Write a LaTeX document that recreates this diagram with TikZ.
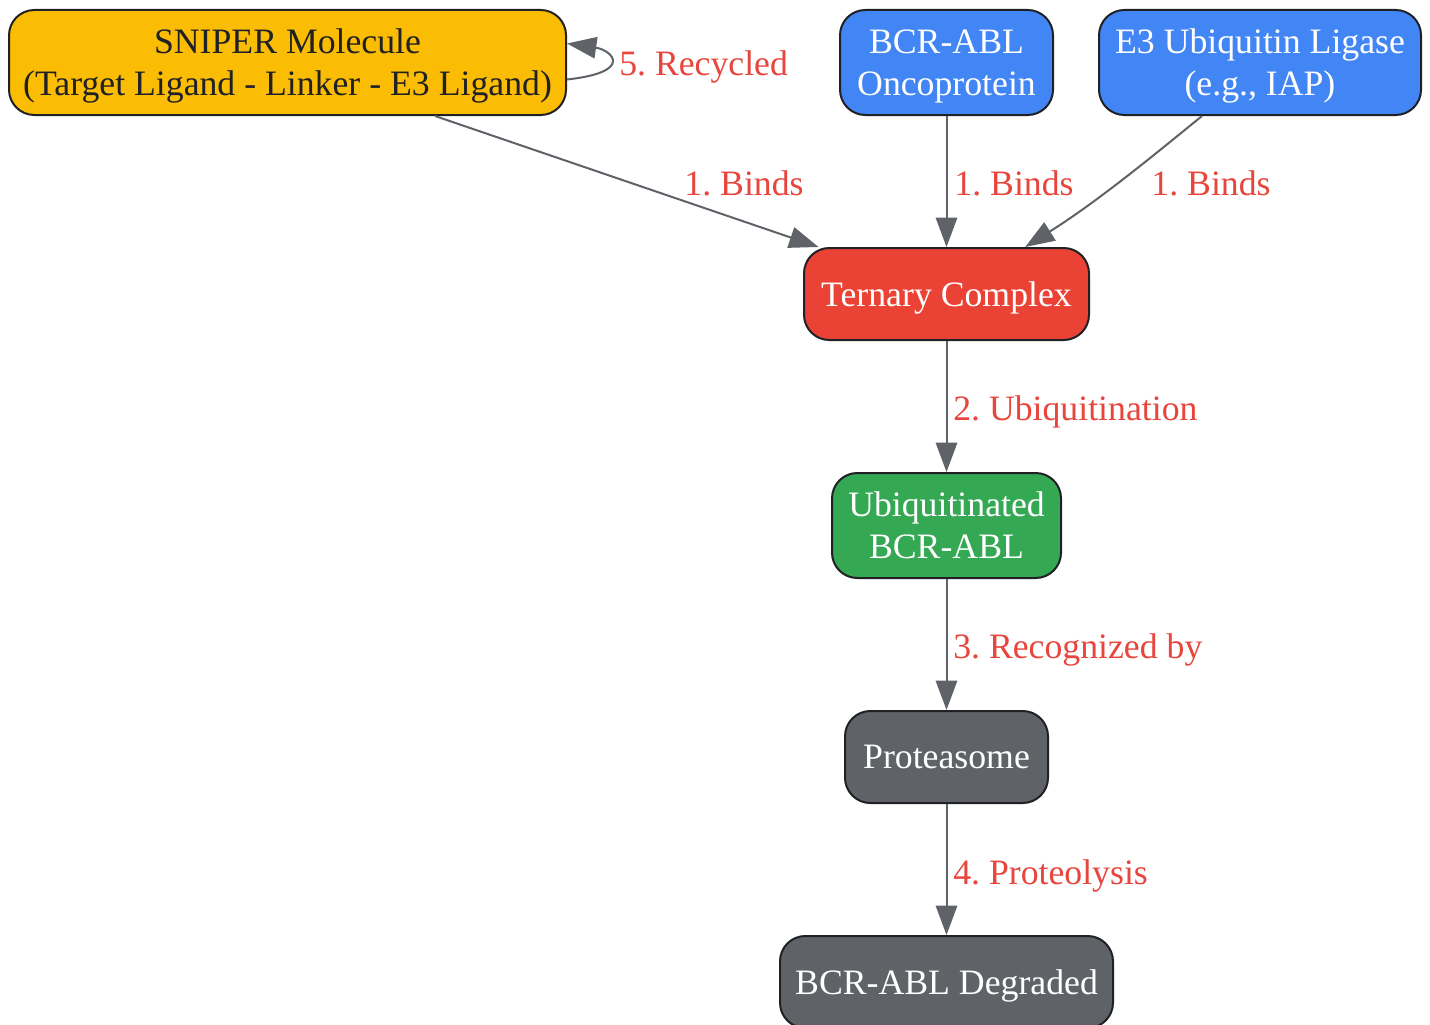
\documentclass[tikz,border=0pt]{standalone}
\usepackage{fontspec}
\setmainfont{Liberation Serif}
\usetikzlibrary{arrows.meta}
\definecolor{cyellow}{HTML}{FBBC04}
\definecolor{cblue}{HTML}{4285F4}
\definecolor{cred}{HTML}{EA4335}
\definecolor{cgreen}{HTML}{34A853}
\definecolor{cgray}{HTML}{5F6368}
\definecolor{cborder}{HTML}{202124}
\definecolor{clabel}{HTML}{E8453C}
\frenchspacing
\begin{document}
\begin{tikzpicture}[x=0.75pt,y=-0.75pt,
  box/.style={draw=cborder,line width=1.5pt,rounded corners=19pt,align=center,
    font=\fontsize{26.8}{31.5}\selectfont,inner sep=0pt,text depth=-1.5pt},
  edge/.style={draw=cgray,line width=1.5pt,-{Triangle[length=22pt,width=16pt]}},
  lbl/.style={text=clabel,font=\fontsize{26.8}{31.5}\selectfont,inner sep=0pt,text depth=-1pt}]
\useasboundingbox[fill=white] (0,0) rectangle (1430,1024);
\node[box,fill=cyellow,text=cborder,minimum width=417.75pt,minimum height=78.75pt] (sniper) at (287.5,62.5) {SNIPER Molecule\\(Target Ligand - Linker - E3 Ligand)};
\node[box,fill=cblue,text=white,minimum width=159.75pt,minimum height=78.75pt] (bcr) at (946.5,62.5) {BCR-ABL\\Oncoprotein};
\node[box,fill=cblue,text=white,minimum width=241.5pt,minimum height=78.75pt] (e3) at (1260,62.5) {E3 Ubiquitin Ligase\\(e.g., IAP)};
\node[box,fill=cred,text=white,minimum width=213.75pt,minimum height=69pt] (tern) at (946.5,294) {Ternary Complex};
\node[box,fill=cgreen,text=white,minimum width=171.75pt,minimum height=78.75pt] (ubi) at (946.5,525.5) {Ubiquitinated\\BCR-ABL};
\node[box,fill=cgray,text=white,minimum width=152.25pt,minimum height=69pt] (prot) at (946.5,757) {Proteasome};
\node[box,fill=cgray,text=white,minimum width=249.75pt,minimum height=69pt] (deg) at (946.5,982) {BCR-ABL Degraded};

\draw[edge] ([xshift=110.6pt]sniper.south) -- ([xshift=-96pt]tern.north);
\draw[edge] (bcr.south) -- (tern.north);
\draw[edge] ([xshift=-43.5pt]e3.south) .. controls (1160,150) and (1100,200) .. ([xshift=59pt]tern.north);
\draw[edge] (tern.south) -- (ubi.north);
\draw[edge] (ubi.south) -- (prot.north);
\draw[edge] (prot.south) -- (deg.north);
\draw[edge] ([yshift=-12.75pt]sniper.east) .. controls (635,72) and (612,50) .. ([yshift=14.25pt]sniper.east);

\node[lbl] (l1) at (744,183) {1. Binds};
\node[lbl] (l2) at (1014,183) {1. Binds};
\node[lbl] (l3) at (1211,183) {1. Binds};
\node[lbl,anchor=west] (l4) at (953,408) {2. Ubiquitination};
\node[lbl,anchor=west] (l5) at (953,646) {3. Recognized by};
\node[lbl,anchor=west] (l6) at (953,872) {4. Proteolysis};
\node[lbl,anchor=west] (l7) at (619,63) {5. Recycled};
\end{tikzpicture}
\end{document}
